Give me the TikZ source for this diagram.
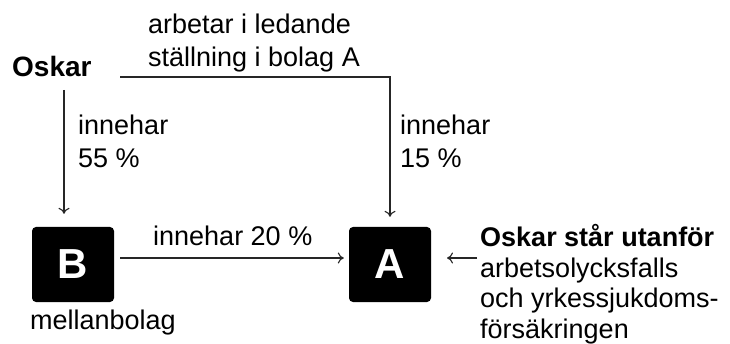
\documentclass[tikz,border=0pt]{standalone}
\usepackage{fontspec}
\setmainfont{Liberation Sans}
\usetikzlibrary{arrows.meta}

\begin{document}
\begin{tikzpicture}[x=1pt,y=-1pt,
    txt/.style={inner sep=0pt, anchor=base west, align=left, font=\fontsize{27}{33}\selectfont},
    bolag/.style={fill=black, rounded corners=4pt, minimum width=82pt, minimum height=75pt,
        inner sep=0pt, text=white, font=\fontsize{42}{42}\selectfont\bfseries},
    pil/.style={draw=black!85, line width=1.1pt, -{To[length=6pt,width=11pt]}}]
    \useasboundingbox (0,0) rectangle (730,344);

    % Oskar and the two companies
    \node[txt, font=\fontsize{28}{33}\selectfont\bfseries] (oskar) at (12,77) {Oskar};
    \node[bolag] (B) at (73,264.5) {B};
    \node[bolag] (A) at (390,264.5) {A};

    % Labels (base = last line)
    \node[txt] (leder) at (148,67) {arbetar i ledande\\ställning i bolag A};
    \node[txt] (ag55) at (78,168) {innehar\\55 \%};
    \node[txt] (ag15) at (400,168) {innehar\\15 \%};
    \node[txt] (ag20) at (153,246) {innehar 20 \%};
    \node[txt] (mellan) at (30,329) {mellanbolag};
    \node[txt, font=\fontsize{27}{30.5}\selectfont] (utanfor) at (480,338)
        {\textbf{Oskar står utanför}\\arbetsolycksfalls\\och yrkessjukdoms-\\försäkringen};

    % Connectors
    \coordinate (oskarB) at (64,90);
    \coordinate (oskarA) at (120,77);
    \coordinate (utA) at (477,258);
    \draw[pil, shorten >=13pt] (oskarB) -- (oskarB |- B.north);
    \draw[pil, shorten >=10pt] (oskarA) -| (A.north);
    \draw[pil, shorten <=6pt, shorten >=5pt] (B.east |- 0,258) -- (A.west |- 0,258);
    \draw[pil] (utA) -- (447,258);
\end{tikzpicture}
\end{document}
